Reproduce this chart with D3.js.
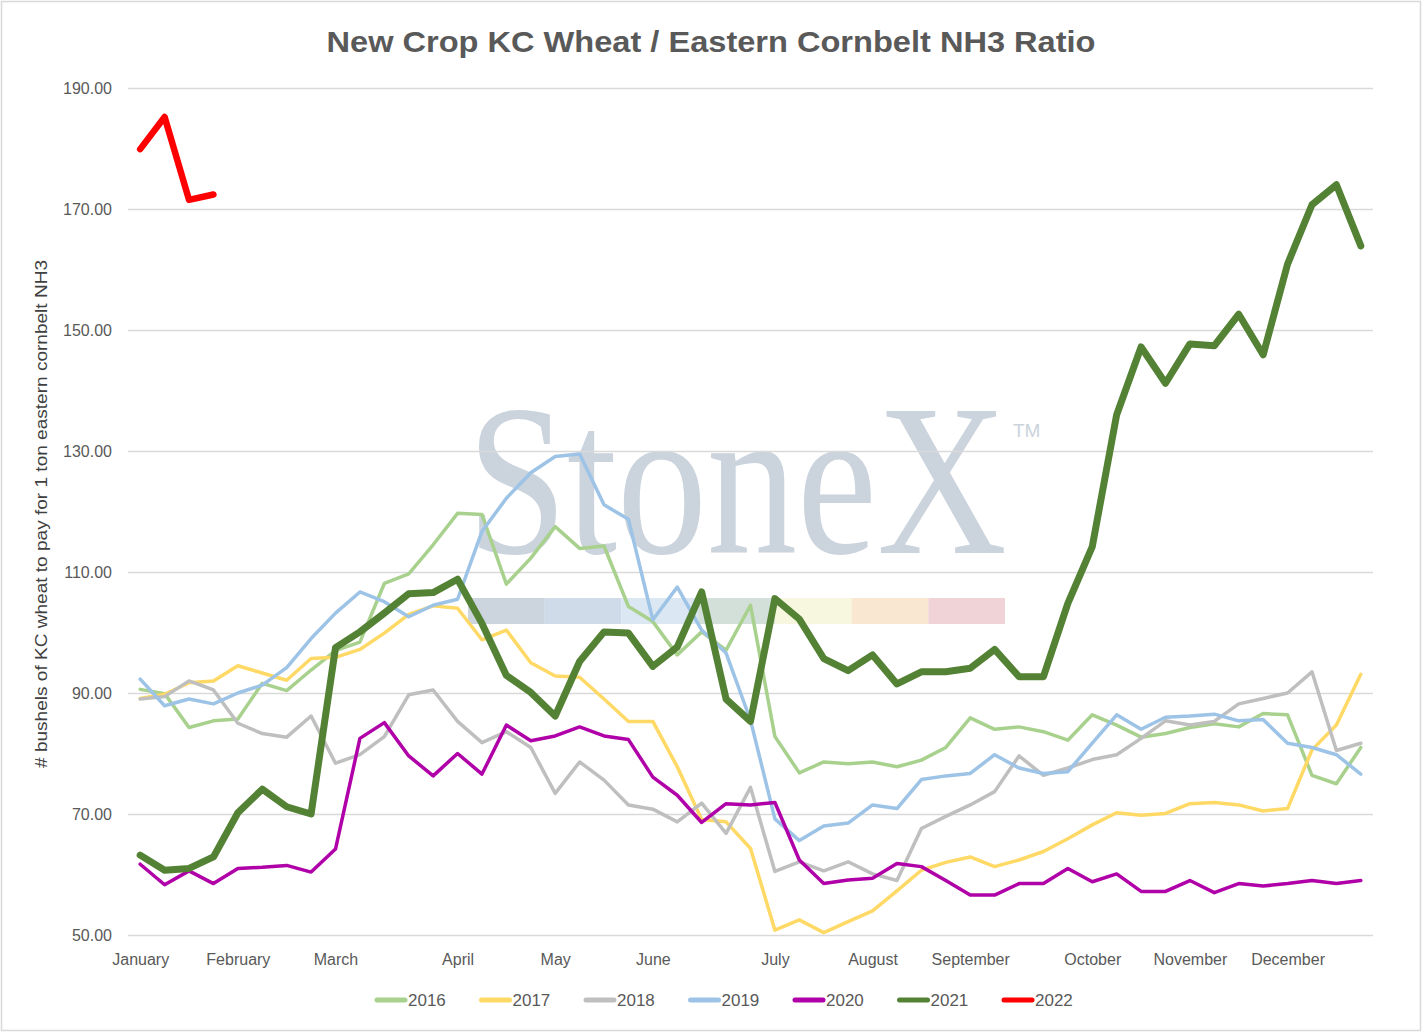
<!DOCTYPE html>
<html>
<head>
<meta charset="utf-8">
<script src="https://cdn.jsdelivr.net/npm/d3@7"></script>
<style>
    body { margin: 0; background: #fff; }
    text { font-family: "Liberation Sans", Arial, sans-serif; }
</style>
</head>
<body>
<div id="chart"></div>
<script>
// weekly points, 51 weeks, month name on the first week of each month
const monthNames = ["January", "February", "March", "April", "May", "June", "July",
    "August", "September", "October", "November", "December"]
const monthWeeks = [0, 4, 8, 13, 17, 21, 26, 30, 34, 39, 43, 47]
const yTicks = [50, 70, 90, 110, 130, 150, 170, 190]
const years = ["2016", "2017", "2018", "2019", "2020", "2021", "2022"]

const y2016 = [90.6, 89.9, 84.3, 85.4, 85.7, 91.6, 90.4, 93.8, 97.0, 98.4,
    108.1, 109.7, 114.5, 119.7, 119.5, 108.0, 112.3, 117.5, 113.9, 114.3,
    104.3, 101.8, 96.3, 100.1, 97.1, 104.5, 82.8, 76.8, 78.6, 78.3,
    78.6, 77.8, 78.9, 81.0, 85.9, 84.0, 84.4, 83.6, 82.2, 86.4,
    84.7, 82.7, 83.3, 84.3, 84.9, 84.4, 86.6, 86.4, 76.4, 75.0, 81.0]
const y2017 = [89.1, 89.8, 91.7, 92.0, 94.5, 93.3, 92.1, 95.7, 95.9, 97.2,
    99.9, 103.0, 104.4, 104.0, 98.8, 100.4, 95.0, 92.8, 92.6, 89.0,
    85.3, 85.3, 77.8, 69.1, 68.7, 64.3, 50.8, 52.5, 50.4, 52.2,
    54.0, 57.3, 60.7, 62.0, 62.9, 61.3, 62.4, 63.8, 65.9, 68.2,
    70.2, 69.8, 70.1, 71.7, 71.9, 71.5, 70.5, 70.9, 80.6, 84.7, 93.1]
const y2018 = [89.0, 89.4, 92.0, 90.5, 85.0, 83.3, 82.7, 86.2, 78.4, 79.8,
    82.8, 89.7, 90.5, 85.3, 81.8, 83.6, 81.0, 73.4, 78.6, 75.6,
    71.5, 70.8, 68.7, 71.8, 66.8, 74.4, 60.5, 62.1, 60.6, 62.1,
    60.1, 59.0, 67.6, 69.6, 71.5, 73.7, 79.6, 76.4, 77.6, 79.0,
    79.8, 82.5, 85.4, 84.7, 85.3, 88.2, 89.1, 90.0, 93.5, 80.5, 81.7]
const y2019 = [92.3, 87.9, 89.0, 88.2, 90.0, 91.3, 94.2, 99.0, 103.2, 106.7,
    105.1, 102.6, 104.5, 105.5, 116.7, 122.2, 126.4, 129.1, 129.5, 121.1,
    118.7, 102.1, 107.5, 100.4, 96.6, 85.5, 69.2, 65.6, 68.0, 68.5,
    71.5, 70.9, 75.7, 76.3, 76.7, 79.8, 77.6, 76.7, 77.0, 81.7,
    86.4, 84.0, 86.0, 86.2, 86.5, 85.4, 85.6, 81.7, 81.0, 79.8, 76.6]
const y2020 = [61.7, 58.3, 60.6, 58.5, 61.0, 61.2, 61.5, 60.4, 64.2, 82.5,
    85.1, 79.6, 76.3, 80.0, 76.6, 84.7, 82.1, 82.9, 84.4, 82.9,
    82.3, 76.1, 73.1, 68.6, 71.7, 71.5, 71.9, 62.4, 58.5, 59.1,
    59.4, 61.8, 61.3, 59.0, 56.6, 56.6, 58.5, 58.5, 61.0, 58.8,
    60.1, 57.2, 57.2, 59.0, 57.0, 58.5, 58.1, 58.5, 59.0, 58.5, 59.0]
const y2021 = [63.2, 60.7, 61.0, 62.9, 70.2, 74.1, 71.2, 70.0, 97.5, 100.1,
    103.2, 106.4, 106.6, 108.8, 101.5, 92.9, 90.1, 86.2, 95.2, 100.1,
    99.9, 94.4, 97.6, 106.7, 89.0, 85.3, 105.6, 102.2, 95.7, 93.7,
    96.3, 91.5, 93.5, 93.5, 94.1, 97.2, 92.7, 92.7, 104.8, 114.2,
    136.0, 147.2, 141.2, 147.7, 147.4, 152.6, 145.9, 160.9, 170.7, 174.0, 163.9]
const y2022 = [179.9, 185.2, 171.5, 172.4]

const seriesValues = [y2016, y2017, y2018, y2019, y2020, y2021, y2022]
const colors = ["#a9d18e", "#ffd966", "#bfbfbf", "#9dc3e6", "#b000a8", "#548235", "#ff0000"]
const widths = [3.5, 3.5, 3.5, 3.5, 3.5, 7, 6.5]

// watermark bar colours
const bandColors = ["#ccd4de", "#cfdbe8", "#dbe7f2", "#d3dfd9", "#f7f6df", "#f9e7d1", "#efd3d6"]

const width = 1422
const height = 1033
const margin = { left: 128, right: 49, top: 88, bottom: 98 }

const svg = d3.select("#chart")
    .append("svg")
    .attr("width", width)
    .attr("height", height)

// outer border
svg.append("rect")
    .attr("x", 1.5).attr("y", 1.5)
    .attr("width", width - 3).attr("height", height - 4)
    .attr("fill", "#fff")
    .attr("stroke", "#d9d9d9")
    .attr("stroke-width", 1.5)

const weeks = d3.range(y2016.length)
const x = d3.scalePoint()
    .domain(weeks)
    .range([margin.left, width - margin.right])
    .padding(0.5)

const y = d3.scaleLinear()
    .domain([50, 190])
    .range([height - margin.bottom, margin.top])

// title
svg.append("text")
    .attr("x", 711)
    .attr("y", 52)
    .attr("text-anchor", "middle")
    .attr("font-size", 30)
    .attr("font-weight", "bold")
    .attr("fill", "#595959")
    .attr("textLength", 769)
    .attr("lengthAdjust", "spacingAndGlyphs")
    .text("New Crop KC Wheat / Eastern Cornbelt NH3 Ratio")

// StoneX watermark behind the plot, stretched tall like the logo
const wm = svg.append("g")
wm.append("text")
    .attr("transform", "translate(467,553) scale(1,1.2)")
    .attr("font-size", 180)
    .attr("fill", "#cbd3dd")
    .style("font-family", "'Liberation Serif', serif")
    .text("StoneX")
wm.append("text")
    .attr("x", 1013)
    .attr("y", 437)
    .attr("font-size", 19)
    .attr("fill", "#cbd3dd")
    .text("TM")
const band = d3.scaleBand()
    .domain(d3.range(bandColors.length))
    .range([468, 1005])
wm.selectAll("rect")
    .data(bandColors)
    .join("rect")
    .attr("x", (d, i) => band(i))
    .attr("y", 598)
    .attr("width", band.bandwidth())
    .attr("height", 26)
    .attr("fill", d => d)

// y axis: gridlines and labels
const yAxis = svg.append("g")
    .attr("transform", `translate(${margin.left},0)`)
    .call(d3.axisLeft(y)
        .tickValues(yTicks)
        .tickFormat(d3.format(".2f"))
        .tickSize(-(width - margin.left - margin.right))
        .tickPadding(16))
yAxis.select(".domain").remove()
yAxis.selectAll(".tick line")
    .attr("stroke", "#d9d9d9")
    .attr("stroke-width", 1.5)
yAxis.selectAll(".tick text")
    .attr("font-size", 16)
    .attr("fill", "#595959")
    .style("font-family", "'Liberation Sans', Arial, sans-serif")

// x axis: month names only
const xAxis = svg.append("g")
    .attr("transform", `translate(0,${height - margin.bottom})`)
    .call(d3.axisBottom(x)
        .tickValues(monthWeeks)
        .tickFormat((d, i) => monthNames[i])
        .tickSize(0)
        .tickPadding(19))
xAxis.select(".domain").remove()
xAxis.selectAll(".tick text")
    .attr("font-size", 16)
    .attr("fill", "#595959")
    .style("font-family", "'Liberation Sans', Arial, sans-serif")

// y axis title
svg.append("text")
    .attr("transform", "translate(47,514) rotate(-90)")
    .attr("text-anchor", "middle")
    .attr("font-size", 16)
    .attr("fill", "#404040")
    .attr("textLength", 508)
    .attr("lengthAdjust", "spacingAndGlyphs")
    .text("# bushels of KC wheat to pay for 1 ton eastern cornbelt NH3")

// series lines
const line = d3.line()
    .x((d, i) => x(i))
    .y(d => y(d))

svg.append("g")
    .selectAll("path")
    .data(seriesValues)
    .join("path")
    .attr("d", d => line(d))
    .attr("fill", "none")
    .attr("stroke", (d, i) => colors[i])
    .attr("stroke-width", (d, i) => widths[i])
    .attr("stroke-linejoin", "round")
    .attr("stroke-linecap", "round")

// legend
const legend = svg.append("g")
    .selectAll("g")
    .data(years)
    .join("g")
    .attr("transform", (d, i) => `translate(${377 + i * 104.5},1000)`)
legend.append("line")
    .attr("x1", 0).attr("x2", 28)
    .attr("stroke", (d, i) => colors[i])
    .attr("stroke-width", 5)
    .attr("stroke-linecap", "round")
legend.append("text")
    .attr("x", 31)
    .attr("y", 6)
    .attr("font-size", 17)
    .attr("fill", "#595959")
    .text(d => d)
</script>
</body>
</html>
